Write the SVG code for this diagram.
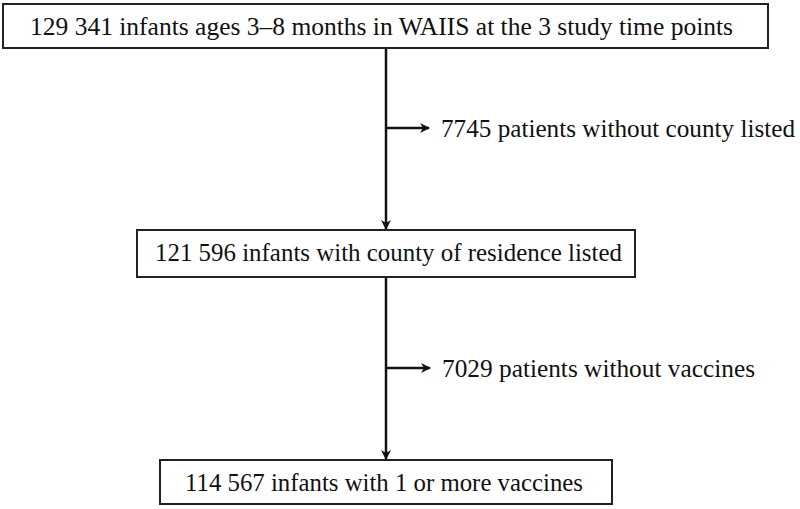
<svg xmlns="http://www.w3.org/2000/svg" width="800" height="509" viewBox="0 0 800 509">
<style>
.box{fill:#fff;stroke:#222;stroke-width:2}
.t{font-family:"Liberation Serif","Times New Roman",serif;font-size:26px;fill:#111}
.ln{stroke:#111;stroke-width:2.5;fill:none}
</style>
<defs>
<marker id="ah" markerWidth="10" markerHeight="10" refX="9" refY="5" orient="auto" markerUnits="userSpaceOnUse">
<path d="M0,0 L10,5 L0,10 L3,5 Z" fill="#111"/>
</marker>
</defs>
<rect width="800" height="509" fill="#fff"/>
<g id="connectors">
<line class="ln" x1="386" y1="48" x2="386" y2="229" marker-end="url(#ah)"/>
<line class="ln" x1="386" y1="128" x2="429" y2="128" marker-end="url(#ah)"/>
<line class="ln" x1="386" y1="277" x2="386" y2="459" marker-end="url(#ah)"/>
<line class="ln" x1="386" y1="368" x2="430" y2="368" marker-end="url(#ah)"/>
</g>
<g id="n1">
<rect class="box" x="3" y="4" width="765" height="44"/>
<text class="t" x="30" y="34.5" textLength="703" lengthAdjust="spacingAndGlyphs">129 341 infants ages 3–8 months in WAIIS at the 3 study time points</text>
</g>
<g id="n_excl1">
<text class="t" x="441" y="137" textLength="354" lengthAdjust="spacingAndGlyphs">7745 patients without county listed</text>
</g>
<g id="n2">
<rect class="box" x="137" y="230" width="498" height="47"/>
<text class="t" x="155" y="261" textLength="467" lengthAdjust="spacingAndGlyphs">121 596 infants with county of residence listed</text>
</g>
<g id="n_excl2">
<text class="t" x="442" y="377" textLength="313" lengthAdjust="spacingAndGlyphs">7029 patients without vaccines</text>
</g>
<g id="n3">
<rect class="box" x="160" y="460" width="452" height="44"/>
<text class="t" x="185" y="491" textLength="398" lengthAdjust="spacingAndGlyphs">114 567 infants with 1 or more vaccines</text>
</g>
</svg>
